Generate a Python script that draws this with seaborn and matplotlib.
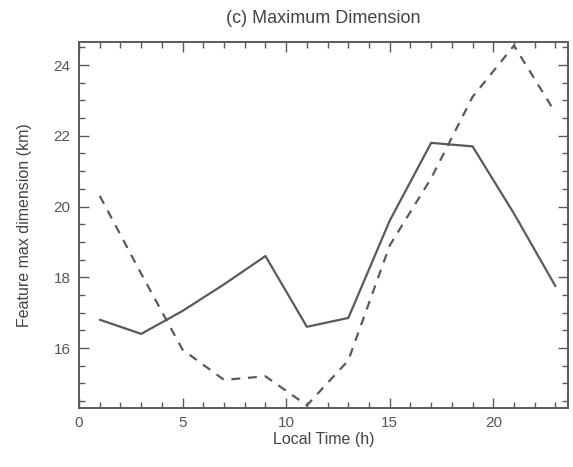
import numpy as np
import pandas as pd
import matplotlib
matplotlib.use("Agg")
import matplotlib.pyplot as plt
import seaborn as sns
from matplotlib.ticker import MultipleLocator

hours = [1, 3, 5, 7, 9, 11, 13, 15, 17, 19, 21, 23]
solid_vals = [16.8, 16.4, 17.05, 17.8, 18.6, 16.6, 16.85, 19.6, 21.8, 21.7, 19.8, 17.75]
dashed_vals = [20.3, 18.1, 15.95, 15.1, 15.2, 14.38, 15.65, 18.9, 20.8, 23.1, 24.55, 22.65]

title = "(c) Maximum Dimension"
xlabel = "Local Time (h)"
ylabel = "Feature max dimension (km)"

df = pd.DataFrame({
    "hour": hours * 2,
    "value": solid_vals + dashed_vals,
    "series": ["solid"] * len(hours) + ["dashed"] * len(hours),
})

sns.set_theme(style="white")
plt.rcParams["font.family"] = ["Liberation Sans", "DejaVu Sans"]

fig = plt.figure(figsize=(5.73, 4.67), dpi=100)
ax = fig.add_axes([0.138, 0.126, 0.853, 0.784])

col = "#5a5a5a"
sns.lineplot(data=df, x="hour", y="value", style="series",
             dashes={"solid": "", "dashed": (4, 3.5)},
             color=col, linewidth=1.6, legend=False, ax=ax)

ax.set_xlim(0, 23.6)
ax.set_ylim(14.3, 24.65)
ax.xaxis.set_major_locator(MultipleLocator(5))
ax.xaxis.set_minor_locator(MultipleLocator(1))
ax.yaxis.set_major_locator(MultipleLocator(2))
ax.yaxis.set_minor_locator(MultipleLocator(0.5))
ax.tick_params(which="both", direction="in", top=True, right=True,
               bottom=True, left=True, color=col, labelcolor="#555555",
               labelsize=11)
ax.tick_params(which="major", length=7, width=1, pad=6)
ax.tick_params(which="minor", length=4, width=1)
for s in ax.spines.values():
    s.set_color(col)
    s.set_linewidth(1.4)

ax.set_title(title, fontsize=13, color="#444444", pad=14)
ax.set_xlabel(xlabel, fontsize=11.5, color="#444444", labelpad=1)
ax.set_ylabel(ylabel, fontsize=11.5, color="#444444", labelpad=16)

fig.savefig("out.png", dpi=100)
